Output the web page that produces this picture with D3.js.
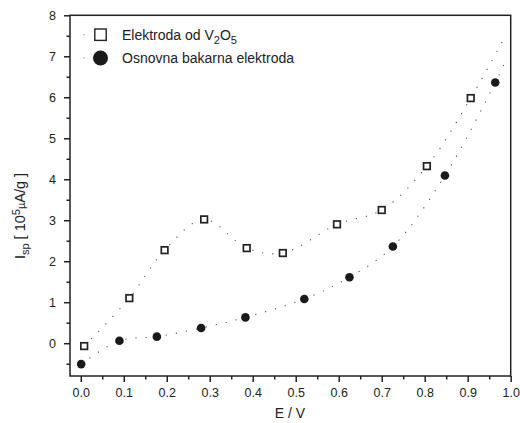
<!DOCTYPE html>
<html><head><meta charset="utf-8">
<script src="https://cdn.jsdelivr.net/npm/d3@7/dist/d3.min.js"></script>
<style>
body{margin:0;background:#fff;}
text{font-family:"Liberation Sans",Arial,sans-serif;fill:#222;}
</style></head>
<body><svg id="c" width="520" height="423"></svg>
<script>
// Data
const xV2O5 = [0.008, 0.113, 0.195, 0.287, 0.386, 0.470, 0.596, 0.700, 0.805, 0.907];
const yV2O5 = [-0.07, 1.10, 2.27, 3.02, 2.32, 2.20, 2.90, 3.25, 4.32, 5.98];
const xCu = [0.001, 0.090, 0.177, 0.280, 0.383, 0.520, 0.625, 0.726, 0.847, 0.964];
const yCu = [-0.51, 0.06, 0.16, 0.37, 0.63, 1.08, 1.61, 2.36, 4.09, 6.36];
// dotted guide-curve extensions toward the right edge
const fitEndV2O5 = [0.988, 7.50];
const fitEndCu = [0.992, 6.98];
const xTicks = [0.0, 0.1, 0.2, 0.3, 0.4, 0.5, 0.6, 0.7, 0.8, 0.9, 1.0];
const yTicks = [0, 1, 2, 3, 4, 5, 6, 7, 8];
const seriesNames = ["Elektroda od V", "Osnovna bakarna elektroda"];

const svg = d3.select("#c");
const L = 70, R = 510.7, T = 15.3, B = 376;
const x = d3.scaleLinear().domain([-0.025, 1.0]).range([L, R]);
const y = d3.scaleLinear().domain([-0.8, 8]).range([B, T]);

// frame
svg.append("rect").attr("x", L).attr("y", T).attr("width", R - L).attr("height", B - T)
  .attr("fill", "none").attr("stroke", "#222").attr("stroke-width", 1.5);

// x axis
const xAxis = d3.axisBottom(x).tickValues(xTicks).tickFormat(d3.format(".1f")).tickSize(6).tickSizeOuter(0);
const gx = svg.append("g").attr("transform", `translate(0,${B})`).call(xAxis);
const xMinor = d3.range(0.05, 1.0, 0.1);
const gxm = svg.append("g").attr("transform", `translate(0,${B})`)
  .call(d3.axisBottom(x).tickValues(xMinor).tickFormat("").tickSize(3.5).tickSizeOuter(0));
// y axis
const yAxis = d3.axisLeft(y).tickValues(yTicks).tickFormat(d3.format("d")).tickSize(6).tickSizeOuter(0);
const gy = svg.append("g").attr("transform", `translate(${L},0)`).call(yAxis);
const yMinor = d3.range(-0.5, 8, 1);
const gym = svg.append("g").attr("transform", `translate(${L},0)`)
  .call(d3.axisLeft(y).tickValues(yMinor).tickFormat("").tickSize(3.5).tickSizeOuter(0));
[gx, gxm, gy, gym].forEach(g => {
  g.select(".domain").remove();
  g.selectAll(".tick line").attr("stroke", "#222").attr("stroke-width", 1.5);
  g.selectAll(".tick text").style("font-family", '"Liberation Sans",Arial,sans-serif')
    .style("font-size", "12.5px").attr("fill", "#333");
});
gx.selectAll(".tick text").attr("dy", "0").attr("y", 21);
gy.selectAll(".tick text").attr("x", -14).attr("dy", "0.35em");

// axis labels
svg.append("text").attr("x", 290).attr("y", 418).attr("text-anchor", "middle")
  .style("font-size", "14px").attr("fill", "#333").text("E / V");
const yl = svg.append("text").attr("transform", "translate(25,216) rotate(-90)")
  .attr("text-anchor", "middle").style("font-size", "14.5px").attr("fill", "#333");
yl.append("tspan").text("I");
yl.append("tspan").attr("dy", 4).style("font-size", "11px").text("sp");
yl.append("tspan").attr("dy", -4).text(" [ 10");
yl.append("tspan").attr("dy", -5).style("font-size", "11px").text("5");
yl.append("tspan").attr("dy", 5).style("font-size", "11px").text("\u00b5");
yl.append("tspan").text("A/g ]");

// dotted curves
const line = d3.line().x(d => x(d[0])).y(d => y(d[1])).curve(d3.curveCatmullRom.alpha(0.5));
const ptsV = xV2O5.map((v, i) => [v, yV2O5[i]]).concat([fitEndV2O5]);
const ptsC = xCu.map((v, i) => [v, yCu[i]]).concat([fitEndCu]);
[ptsV, ptsC].forEach(p => {
  svg.append("path").attr("d", line(p)).attr("fill", "none").attr("stroke", "#555")
    .attr("stroke-width", 1.1).attr("stroke-dasharray", "1.2,9");
});

// markers
svg.append("g").selectAll("rect").data(xV2O5.map((v, i) => [v, yV2O5[i]])).join("rect")
  .attr("x", d => x(d[0]) - 3.3).attr("y", d => y(d[1]) - 3.3).attr("width", 6.6).attr("height", 6.6)
  .attr("fill", "#fff").attr("stroke", "#222").attr("stroke-width", 1.7);
svg.append("g").selectAll("circle").data(xCu.map((v, i) => [v, yCu[i]])).join("circle")
  .attr("cx", d => x(d[0])).attr("cy", d => y(d[1])).attr("r", 4.3).attr("fill", "#1a1a1a");

// legend
const lg = svg.append("g");
[34.5, 58].forEach(cy => {
  lg.append("circle").attr("cx", 84).attr("cy", cy).attr("r", 0.7).attr("fill", "#999");
});
lg.append("rect").attr("x", 94.8).attr("y", 29).attr("width", 11.4).attr("height", 11.4)
  .attr("fill", "#fff").attr("stroke", "#222").attr("stroke-width", 1.4);
lg.append("circle").attr("cx", 100.5).attr("cy", 58).attr("r", 7.5).attr("fill", "#1a1a1a");
const t1 = lg.append("text").attr("x", 122).attr("y", 39.5).style("font-size", "14px");
t1.append("tspan").text(seriesNames[0]);
t1.append("tspan").attr("dy", 4).style("font-size", "11px").text("2");
t1.append("tspan").attr("dy", -4).text("O");
t1.append("tspan").attr("dy", 4).style("font-size", "11px").text("5");
lg.append("text").attr("x", 122).attr("y", 63.3).style("font-size", "14px").text(seriesNames[1]);
</script></body></html>
